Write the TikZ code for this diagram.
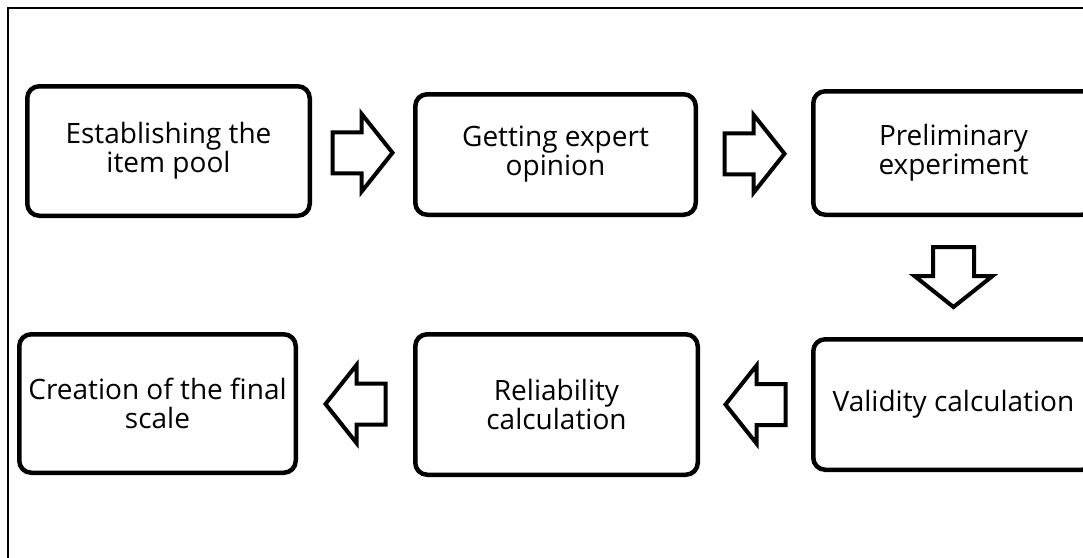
\documentclass[tikz,border=0pt]{standalone}
\usepackage{fontspec}
\setmainfont{Open Sans}
\usetikzlibrary{calc}
\newcommand{\blockarr}[2]{%
  \draw[blockarrow, shift={(#1)}, rotate=#2]
    (-30,-20.5) -- (-1,-20.5) -- (-1,-39) -- (30,0) -- (-1,39) -- (-1,20.5) -- (-30,20.5) -- cycle;}
\begin{document}
\begin{tikzpicture}[x=1pt,y=-1pt,
  box/.style={draw=black, line width=4.5pt, rounded corners=12pt, align=center,
    inner sep=0pt, fill=white, font=\fontsize{28}{29}\selectfont},
  blockarrow/.style={draw=black, line width=4pt, fill=white, line join=miter}]
\useasboundingbox (0,0) rectangle (1083,557);
\clip (0,0) rectangle (1083,557);
\fill[white] (0,0) rectangle (1083,557);
\draw[line width=2pt] (7.5,7.5) rectangle (1120,620);
\node[box, minimum width=282.5pt, minimum height=129.5pt] (b1) at (168.5,151) {Establishing the\\item pool};
\node[box, minimum width=280.5pt, minimum height=120.5pt] (b2) at (555.5,154.5) {Getting expert\\opinion};
\node[box, minimum width=280.5pt, minimum height=123.5pt] (b3) at (953.5,153) {Preliminary\\experiment};
\node[box, minimum width=276.5pt, minimum height=138.5pt] (b4) at (157.5,403.5) {Creation of the final\\scale};
\node[box, minimum width=282.5pt, minimum height=140.5pt] (b5) at (556.5,404.5) {Reliability\\calculation};
\node[box, minimum width=280.5pt, minimum height=130.5pt] (b6) at (953.5,404.5) {Validity calculation};
\coordinate (a12) at ($(b1.east)!0.5!(b2.west)$);
\coordinate (a23) at ($(b2.east)!0.5!(b3.west)$);
\coordinate (a36) at ($(b3.south)!0.5!(b6.north)$);
\coordinate (a65) at ($(b6.west)!0.5!(b5.east)$);
\coordinate (a54) at ($(b5.west)!0.5!(b4.east)$);
\blockarr{a12}{0}
\blockarr{a23}{0}
\blockarr{a36}{-90}
\blockarr{a65}{180}
\blockarr{a54}{180}
\end{tikzpicture}
\end{document}
